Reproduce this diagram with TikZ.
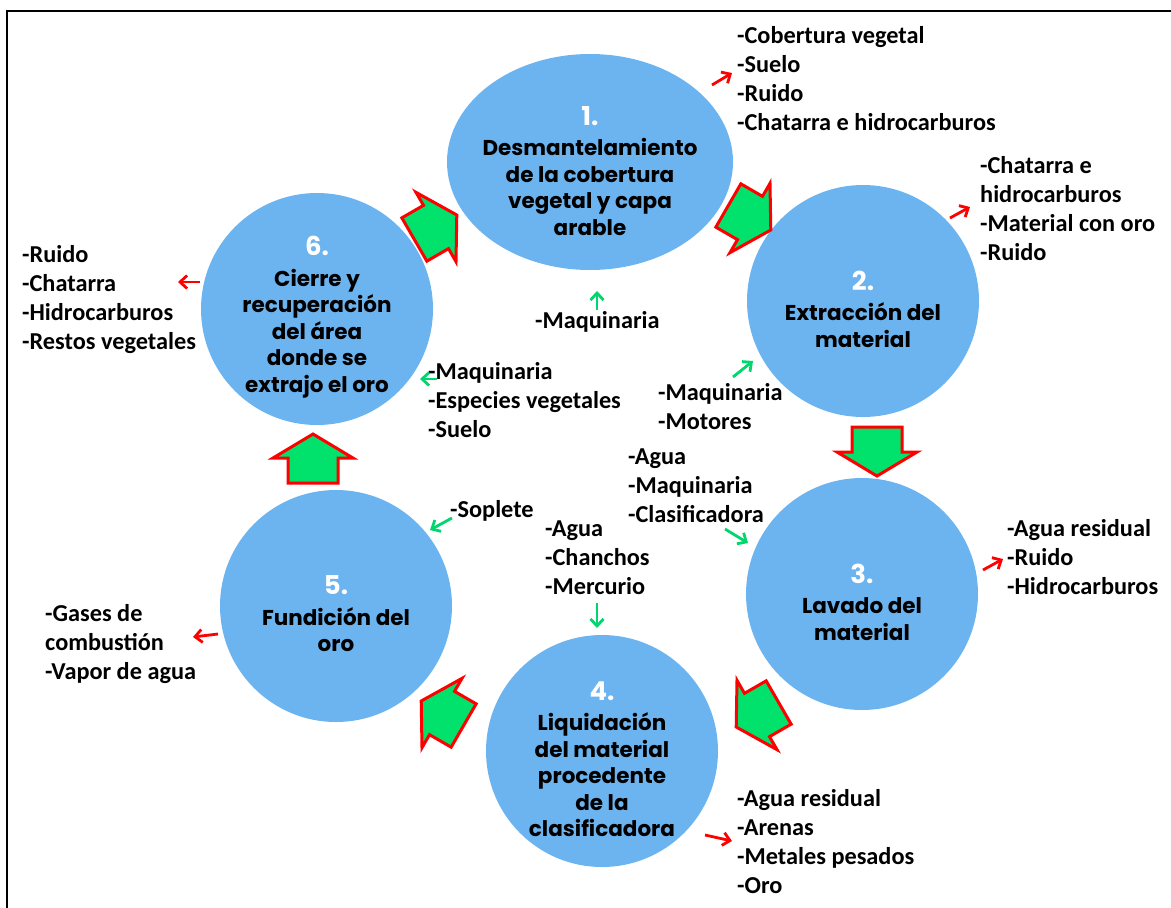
\documentclass[tikz,border=0pt]{standalone}
\usepackage{fontspec}
\setmainfont{Carlito}
\newfontfamily\circfont{Poppins}
\usetikzlibrary{shapes.geometric,arrows.meta}
\definecolor{circblue}{RGB}{108,180,240}
\definecolor{arrgreen}{RGB}{0,226,108}
\definecolor{ingreen}{RGB}{0,214,110}
\newcommand{\stagenum}[1]{{\fontsize{26}{26}\selectfont\textcolor{white}{#1}}}

\begin{document}
\begin{tikzpicture}[x=1pt,y=-1pt,
    stage/.style={circle,fill=circblue,minimum size=232pt,inner sep=0pt},
    stagetxt/.style={align=center,inner sep=0pt,
      font=\circfont\bfseries\fontsize{21.5}{26.5}\selectfont},
    list/.style={anchor=north west,align=left,inner sep=0pt,
      font=\bfseries\fontsize{24.3}{29}\selectfont},
    outarr/.style={red,line width=2.8pt,-{Straight Barb[length=7pt,width=13pt]}},
    inarr/.style={ingreen,line width=2.8pt,-{Straight Barb[length=7pt,width=13pt]}},
    blockarr/.pic={\draw[red,fill=arrgreen,line width=3pt,line join=miter]
      (-25,-25) -- (0,-25) -- (0,-40) -- (24,0) -- (0,40) -- (0,25) -- (-25,25) -- cycle;}]
  \useasboundingbox (0,0) rectangle (1171,908);
  \draw[line width=2pt] (7,908) -- (7,11) -- (1171,11);

  \node[stage,ellipse,minimum width=286pt,minimum height=216pt] (s1) at (590,162) {};
  \node[stage] (s2) at (863,301) {};
  \node[stage] (s3) at (862,594) {};
  \node[stage] (s4) at (602,751) {};
  \node[stage] (s5) at (336,606) {};
  \node[stage] (s6) at (317,309) {};

  \node[stagetxt] (t1) at ([yshift=-9pt]s1.center)
    {\stagenum{1.}\\[4pt]Desmantelamiento\\de la cobertura\\vegetal y capa\\arable};
  \node[stagetxt] (t2) at ([yshift=-8pt]s2.center) {\stagenum{2.}\\[4pt]Extracción del\\material};
  \node[stagetxt] (t3) at ([yshift=-8pt]s3.center) {\stagenum{3.}\\[4pt]Lavado del\\material};
  \node[stagetxt] (t4) at ([yshift=-8pt]s4.center)
    {\stagenum{4.}\\[4pt]Liquidación\\del material\\procedente\\de la\\clasificadora};
  \node[stagetxt] (t5) at ([yshift=-8pt]s5.center) {\stagenum{5.}\\[4pt]Fundición del\\oro};
  \node[stagetxt] (t6) at ([yshift=-8pt]s6.center)
    {\stagenum{6.}\\[4pt]Cierre y\\recuperación\\del área\\donde se\\extrajo el oro};

  \pic[rotate=30] at (436,227) {blockarr};
  \pic[rotate=-30] at (750,218) {blockarr};
  \pic[rotate=-90] at (877,452) {blockarr};
  \pic[rotate=210] at (757,715) {blockarr};
  \pic[rotate=150] at (442,713) {blockarr};
  \pic[rotate=90] at (313,458) {blockarr};

  \node[list] (out1) at (737,26) {-Cobertura vegetal\\-Suelo\\-Ruido\\-Chatarra e hidrocarburos};
  \node[list] (out2) at (980,156) {-Chatarra e\\hidrocarburos\\-Material con oro\\-Ruido};
  \node[list] (out3) at (1007,519) {-Agua residual\\-Ruido\\-Hidrocarburos};
  \node[list] (out4) at (737,789) {-Agua residual\\-Arenas\\-Metales pesados\\-Oro};
  \node[list] (out5) at (45,604) {-Gases de\\combustión\\-Vapor de agua};
  \node[list] (out6) at (22,245) {-Ruido\\-Chatarra\\-Hidrocarburos\\-Restos vegetales};
  \node[list] (in1) at (535,311) {-Maquinaria};
  \node[list] (in2) at (658,383) {-Maquinaria\\-Motores};
  \node[list] (in3) at (628,449) {-Agua\\-Maquinaria\\-Clasificadora};
  \node[list] (in4) at (545,521) {-Agua\\-Chanchos\\-Mercurio};
  \node[list] (in5) at (450,500) {-Soplete};
  \node[list] (in6) at (428,362) {-Maquinaria\\-Especies vegetales\\-Suelo};

  \coordinate (o1a) at (712,85);  \coordinate (o1b) at (732,73);
  \coordinate (o2a) at (950,218); \coordinate (o2b) at (970,207);
  \coordinate (o3a) at (983,570); \coordinate (o3b) at (1003,559);
  \coordinate (o4a) at (705,835); \coordinate (o4b) at (732,841);
  \coordinate (o5a) at (218,634); \coordinate (o5b) at (193,637);
  \coordinate (o6a) at (200,282); \coordinate (o6b) at (178,282);
  \coordinate (i1a) at (597,310); \coordinate (i1b) at (597,291);
  \coordinate (i2a) at (733,377); \coordinate (i2b) at (753,361);
  \coordinate (i3a) at (725,529); \coordinate (i3b) at (748,543);
  \coordinate (i4a) at (597,603); \coordinate (i4b) at (597,628);
  \coordinate (i5a) at (452,518); \coordinate (i5b) at (430,530);
  \coordinate (i6a) at (437,379); \coordinate (i6b) at (420,379);

  \draw[outarr] (o1a) -- (o1b);
  \draw[outarr] (o2a) -- (o2b);
  \draw[outarr] (o3a) -- (o3b);
  \draw[outarr] (o4a) -- (o4b);
  \draw[outarr] (o5a) -- (o5b);
  \draw[outarr] (o6a) -- (o6b);
  \draw[inarr] (i1a) -- (i1b);
  \draw[inarr] (i2a) -- (i2b);
  \draw[inarr] (i3a) -- (i3b);
  \draw[inarr] (i4a) -- (i4b);
  \draw[inarr] (i5a) -- (i5b);
  \draw[inarr] (i6a) -- (i6b);
\end{tikzpicture}
\end{document}
